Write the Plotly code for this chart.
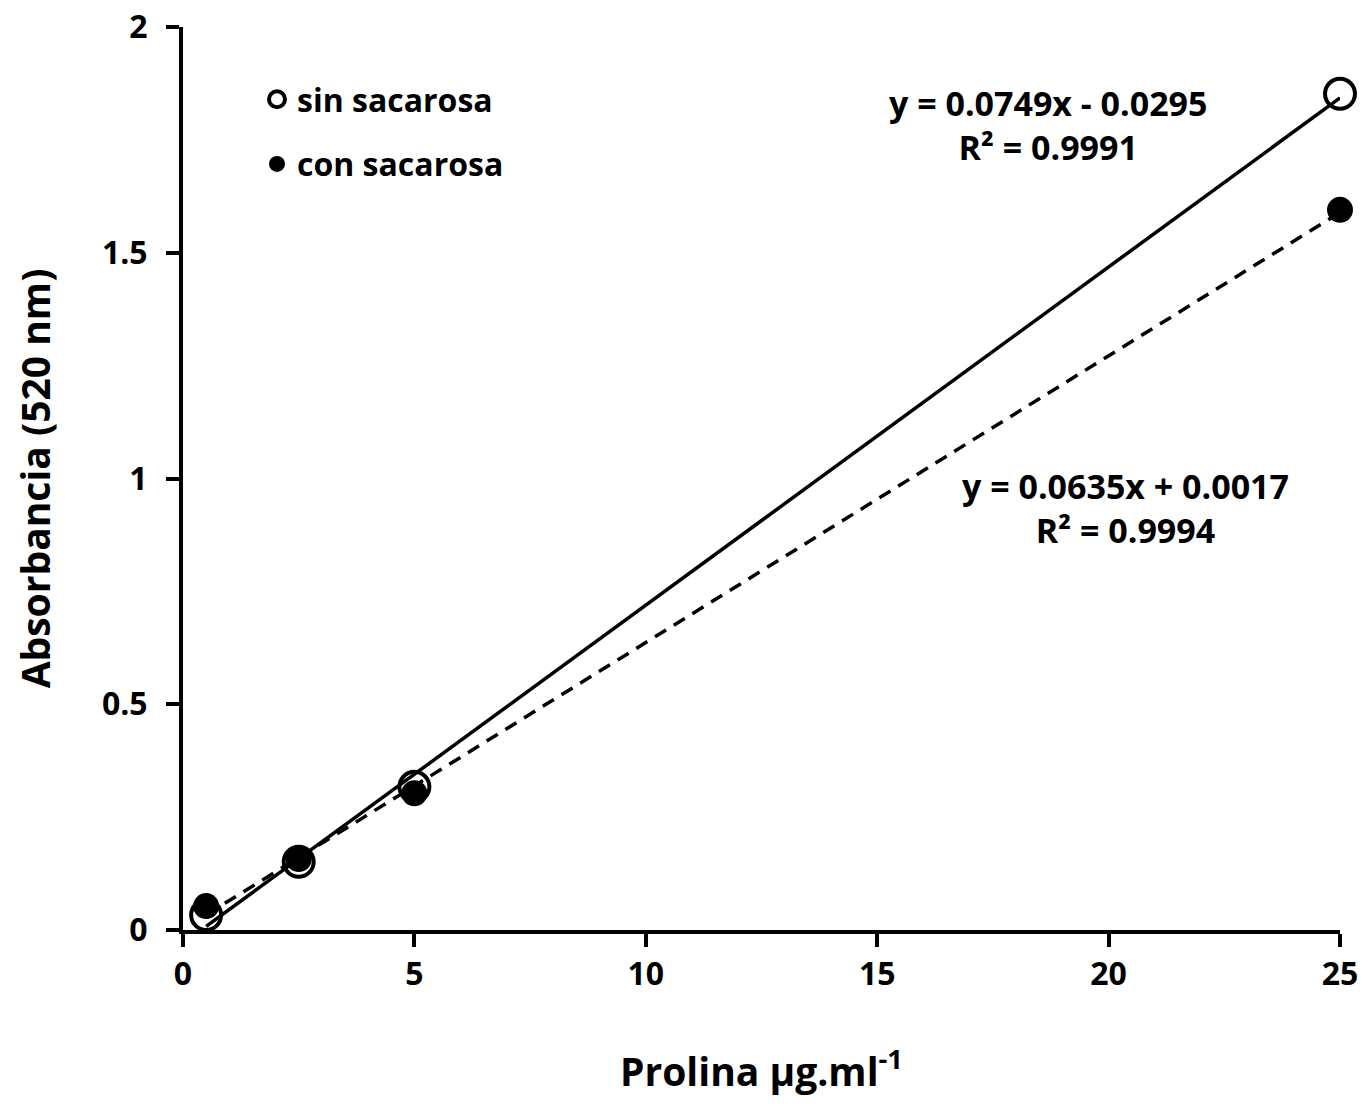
import plotly.graph_objects as go

# Data
x_vals = [0.5, 2.5, 5, 25]
sin_sacarosa = [0.033, 0.151, 0.317, 1.852]
con_sacarosa = [0.053, 0.157, 0.303, 1.595]

# Trendline coefficients (as printed on chart)
sin_slope, sin_intercept = 0.0749, -0.0295
con_slope, con_intercept = 0.0635, 0.0017
sin_label = "<b>y = 0.0749x - 0.0295<br>R² = 0.9991</b>"
con_label = "<b>y = 0.0635x + 0.0017<br>R² = 0.9994</b>"

x_ticks = [0, 5, 10, 15, 20, 25]
y_ticks = [0, 0.5, 1, 1.5, 2]
y_ticklabels = ["<b>0</b>", "<b>0.5</b>", "<b>1</b>", "<b>1.5</b>", "<b>2</b>"]
x_ticklabels = ["<b>%d</b>" % v for v in x_ticks]

FONT = "Open Sans"

fit_x = [min(x_vals), max(x_vals)]
sin_fit = [sin_slope * v + sin_intercept for v in fit_x]
con_fit = [con_slope * v + con_intercept for v in fit_x]

fig = go.Figure()

fig.add_trace(go.Scatter(x=fit_x, y=sin_fit, mode="lines",
                         line=dict(color="black", width=3.5), showlegend=False,
                         hoverinfo="skip"))
fig.add_trace(go.Scatter(x=fit_x, y=con_fit, mode="lines",
                         line=dict(color="black", width=3.5, dash="13px,9px"),
                         showlegend=False, hoverinfo="skip"))

fig.add_trace(go.Scatter(x=x_vals, y=sin_sacarosa, mode="markers", name="<b>sin sacarosa</b>",
                         legendgroup="a",
                         marker=dict(symbol="circle-open", size=30, color="black",
                                     line=dict(width=4, color="black")),
                         cliponaxis=False))
fig.add_trace(go.Scatter(x=x_vals, y=con_sacarosa, mode="markers", name="<b>con sacarosa</b>",
                         legendgroup="b",
                         marker=dict(symbol="circle", size=26, color="black"),
                         cliponaxis=False))

# plot area in reference screen pixels: x 183..1340, y 27..930
def px(xpix):
    return (xpix - 183) / (1340 - 183)

def py(ypix):
    return (930 - ypix) / (930 - 27)

fig.add_annotation(x=px(1048), y=py(125), xref="paper", yref="paper", text=sin_label,
                   showarrow=False, xanchor="center", yanchor="middle",
                   font=dict(family=FONT, size=34, color="black"))
fig.add_annotation(x=px(1125), y=py(508), xref="paper", yref="paper", text=con_label,
                   showarrow=False, xanchor="center", yanchor="middle",
                   font=dict(family=FONT, size=34, color="black"))

fig.update_layout(
    width=1372, height=1104,
    margin=dict(l=175, r=40, t=19, b=182),
    paper_bgcolor="white", plot_bgcolor="white",
    font=dict(family=FONT, size=31, color="black"),
    showlegend=True,
    legend=dict(x=px(257), y=py(72), xanchor="left", yanchor="top",
                bgcolor="rgba(0,0,0,0)", tracegroupgap=20,
                font=dict(family=FONT, size=32, color="black"),
                itemwidth=30),
    xaxis=dict(range=[0, 25], tickvals=x_ticks, ticktext=x_ticklabels,
               showgrid=False, zeroline=False, ticklabeloverflow="allow",
               automargin=False,
               showline=True, linecolor="black", linewidth=4,
               ticks="outside", ticklen=13, tickwidth=4, tickcolor="black",
               tickfont=dict(family=FONT, size=32),
               title=dict(text="<b>Prolina μg.ml<sup>-1</sup></b>", standoff=66,
                          font=dict(family=FONT, size=39))),
    yaxis=dict(range=[0, 2], tickvals=y_ticks, ticktext=y_ticklabels, showgrid=False,
               zeroline=False, showline=True, linecolor="black", linewidth=4,
               ticklabeloverflow="allow", automargin=False, ticklabelstandoff=12,
               ticks="outside", ticklen=13, tickwidth=4, tickcolor="black",
               tickfont=dict(family=FONT, size=32),
               title=dict(text="<b>Absorbancia (520 nm)</b>", standoff=44,
                          font=dict(family=FONT, size=39))),
)

fig.write_html("out.html")
